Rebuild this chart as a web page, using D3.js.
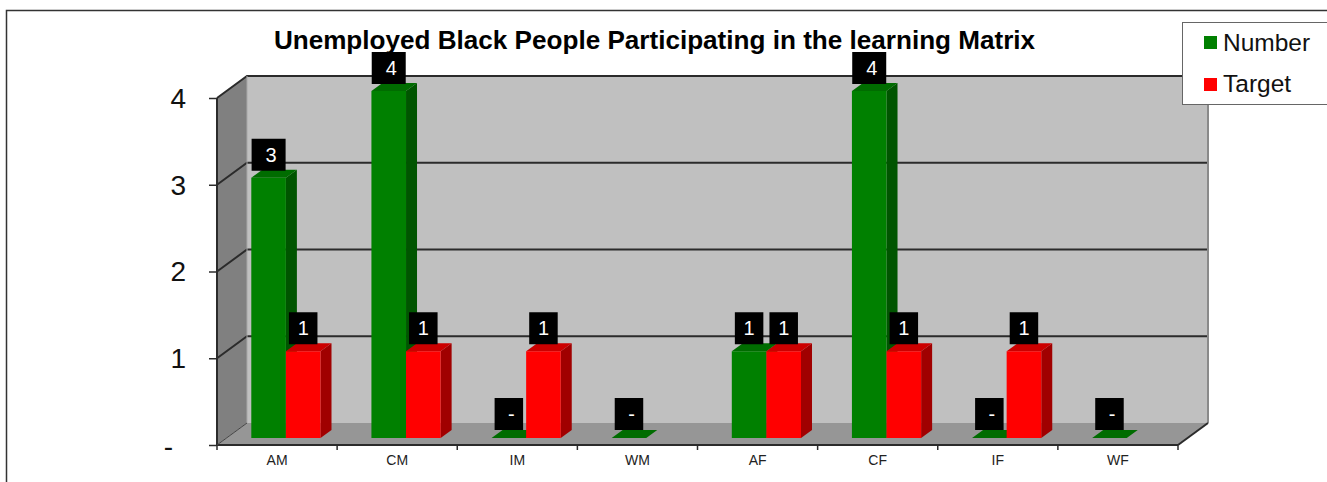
<!DOCTYPE html>
<html>
<head>
<meta charset="utf-8">
<script src="https://cdn.jsdelivr.net/npm/d3@7/dist/d3.min.js"></script>
<style>
html,body{margin:0;padding:0;background:#fff;overflow:hidden}
text{font-family:"Liberation Sans",Arial,sans-serif}
</style>
</head>
<body>
<svg id="c" width="1327" height="482" style="display:block"></svg>
<script>
const categories = ["AM","CM","IM","WM","AF","CF","IF","WF"];
const seriesNames = ["Number","Target"];
const numberValues = [3,4,0,0,1,4,0,0];
const targetValues = [1,1,1,null,1,1,1,null];
const yTicks = [0,1,2,3,4];
const titleText = "Unemployed Black People Participating in the learning Matrix";
const colors = {
  Number:{front:"#008000",top:"#006c00",side:"#005500"},
  Target:{front:"#ff0000",top:"#cc0000",side:"#a00000"}
};

const svg = d3.select("#c");
const left=217,right=1178,base=445,top4=98;
const depthX=30,depthY=22;
const x = d3.scaleBand().domain(categories).range([left,right]);
const y = d3.scaleLinear().domain([0,4]).range([base,top4]);
const x1 = d3.scaleBand().domain(seriesNames).range([34.3,103.5]);
const poly=p=>p.map(d=>d.join(",")).join(" ");

// outer frame
svg.append("path").attr("d","M6.5,482V10.5H1327").attr("fill","none").attr("stroke","#333").attr("stroke-width",1.5);

// walls
svg.append("polygon").attr("fill","#808080")
  .attr("points",poly([[left,y(4)],[left+depthX,y(4)-depthY],[left+depthX,base-depthY],[left,base]]));
svg.append("rect").attr("x",left+depthX).attr("y",y(4)-depthY).attr("width",right-left).attr("height",base-y(4))
  .attr("fill","#c0c0c0");
svg.append("polygon").attr("fill","#969696")
  .attr("points",poly([[left,base],[left+depthX,base-depthY],[right+depthX,base-depthY],[right,base]]));

// gridlines on back and side wall
svg.append("g").selectAll("path").data(yTicks.slice(1)).join("path")
  .attr("d",d=>`M${left},${y(d)}L${left+depthX},${y(d)-depthY}H${right+depthX}`)
  .attr("fill","none").attr("stroke","#2b2b2b").attr("stroke-width",2);
svg.append("path").attr("d",`M${right+depthX},${y(4)-depthY}V${base-depthY}`)
  .attr("stroke","#8a8a8a").attr("stroke-width",2).attr("fill","none");
svg.append("path").attr("d",`M${left+depthX},${y(4)-depthY}V${base-depthY}`)
  .attr("stroke","#a8a8a8").attr("stroke-width",1).attr("fill","none");

// y axis
const yAxis = d3.axisLeft(y).tickValues(yTicks).tickSize(8).tickPadding(23).tickFormat(d=>d===0?"-":d);
const gy = svg.append("g").attr("transform",`translate(${left},0)`).call(yAxis);
gy.select(".domain").attr("stroke","#2b2b2b").attr("stroke-width",2).attr("d",`M0,${y(4)}V${base}`);
gy.selectAll(".tick line").attr("stroke","#2b2b2b").attr("stroke-width",1.5);
gy.selectAll(".tick text").attr("font-size",28).attr("fill","#111")
  .style("font-family",'"Liberation Sans",Arial,sans-serif')
  .attr("dx",d=>d===0?-13:0).attr("dy",d=>d===0?"0.37em":"0.33em");

// x axis
const xAxis = d3.axisBottom(x).tickSize(0).tickPadding(10);
const gx = svg.append("g").attr("transform",`translate(0,${base})`).call(xAxis);
gx.select(".domain").attr("stroke","#2b2b2b").attr("stroke-width",2).attr("d",`M${left},0H${right}`);
gx.selectAll(".tick text").attr("font-size",14).attr("fill","#222")
  .style("font-family",'"Liberation Sans",Arial,sans-serif');
svg.append("g").selectAll("line").data(categories.map(c=>x(c)).concat([right])).join("line")
  .attr("x1",d=>d).attr("x2",d=>d).attr("y1",base).attr("y2",base+5)
  .attr("stroke","#2b2b2b").attr("stroke-width",1.5);
svg.append("path").attr("d",`M${right},${base}L${right+depthX},${base-depthY}`)
  .attr("stroke","#2b2b2b").attr("stroke-width",2);
svg.append("path").attr("d",`M${left},${base}L${left+depthX},${base-depthY}`)
  .attr("stroke","#444").attr("stroke-width",1);

// bars
const barRows = [];
categories.forEach((c,i)=>{
  barRows.push({c,s:"Number",v:numberValues[i]});
  if(targetValues[i]!==null) barRows.push({c,s:"Target",v:targetValues[i]});
});
const offY=7, bdx=11, bdy=8;
const bars = svg.append("g").selectAll("g").data(barRows).join("g");
bars.each(function(d){
  const g=d3.select(this), c=colors[d.s];
  const x0=x(d.c)+x1(d.s), x2=x0+x1.bandwidth();
  const yb=y(0)-offY, yt=y(d.v)-offY;
  d.cx=(x0+x2)/2; d.ty=yt;
  g.append("polygon").attr("fill",c.side)
    .attr("points",poly([[x2,yt],[x2+bdx,yt-bdy],[x2+bdx,yb-bdy],[x2,yb]]));
  g.append("polygon").attr("fill",c.top)
    .attr("points",poly([[x0,yt],[x0+bdx,yt-bdy],[x2+bdx,yt-bdy],[x2,yt]]));
  if(d.v>0) g.append("rect").attr("x",x0).attr("y",yt).attr("width",x2-x0).attr("height",yb-yt).attr("fill",c.front);
});

// title sits beneath the data labels
svg.append("text")
  .attr("x",654.5).attr("y",49).attr("text-anchor","middle")
  .attr("font-size",26.1).attr("font-weight","bold").attr("fill","#000").text(titleText);

// data labels
const labels = svg.append("g").selectAll("g").data(barRows).join("g")
  .attr("transform",d=>`translate(${d.cx},${d.ty-7-(d.v===0?1:0)})`);
const boxW=d=>d.v>=2?34:28.5;
labels.append("rect").attr("x",d=>-boxW(d)/2).attr("y",-32).attr("width",boxW).attr("height",32).attr("fill","#000");
labels.append("text").attr("x",d=>d.v===1?0:2.5).attr("y",-9).attr("text-anchor","middle").attr("font-size",20).attr("fill","#fff")
  .text(d=>d.v===0?"-":d.v);

// legend
const lg = svg.append("g");
lg.append("rect").attr("x",1182.5).attr("y",22.5).attr("width",150).attr("height",82)
  .attr("fill","#fff").attr("stroke","#666").attr("stroke-width",1);
const rows = lg.selectAll("g").data(seriesNames).join("g")
  .attr("transform",(d,i)=>`translate(1204,${36+i*42})`);
rows.append("rect").attr("width",13).attr("height",13).attr("fill",d=>colors[d].front);
rows.append("text").attr("x",19).attr("y",(d,i)=>15-i).attr("font-size",24.5).attr("fill","#111").text(d=>d);
</script>
</body>
</html>
